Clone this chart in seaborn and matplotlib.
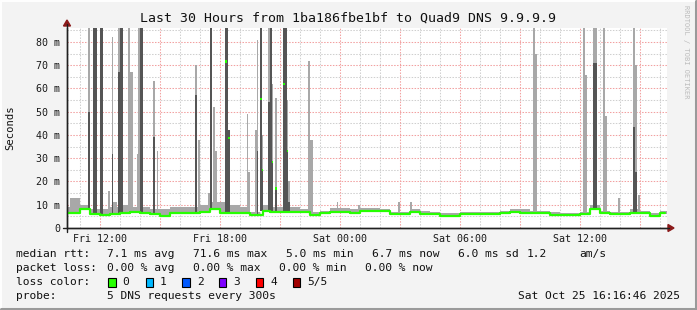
import numpy as np
import pandas as pd
import matplotlib
matplotlib.use("Agg")
import matplotlib.pyplot as plt
import seaborn as sns

# ---------------- data ----------------
# time axis in hours since Fri 00:00, 5-minute steps
start_hour = 10 + 20 / 60          # Fri 10:20
n_steps = 360                      # 30 hours of 5-minute steps

# half-hourly median rtt readings (ms), starting Fri 10:00
half_hour_start = 10.0
median_half_hour = [6.3, 6.3, 8.0, 6.0, 5.5, 6.0, 6.5, 6.7, 6.3, 6.0,
                    5.3, 6.5, 6.6, 6.5, 7.0, 8.0, 6.6, 6.6, 6.5, 5.6,
                    7.5, 7.0, 7.0, 7.0, 6.8, 5.8, 6.3, 7.0, 7.0, 6.6,
                    7.4, 7.2, 7.2, 6.0, 6.0, 7.0, 6.2, 6.0, 5.3, 5.3,
                    6.0, 6.0, 6.0, 6.0, 6.5, 7.0, 6.6, 6.3, 6.3, 5.6,
                    5.6, 5.6, 6.0, 8.2, 6.3, 6.0, 6.0, 6.3, 6.6, 5.2, 6.3]
smoke_top_half_hour = [9, 13, 10, 8, 8, 9, 10, 9, 9, 8,
                       8, 9, 9, 9, 10, 11, 11, 10, 9, 7,
                       10, 9, 9, 9, 8, 7, 7.5, 8.5, 8.5, 8,
                       8.5, 8.5, 8, 7, 7, 8, 7.5, 7, 6.5, 6.5,
                       7, 7, 7, 7, 7.5, 8, 8, 7.5, 7.5, 7,
                       6.5, 6.5, 7, 10, 7.5, 7, 7, 8, 7.5, 6.5, 7.5]

# spikes: time (hours since Fri 00:00), number of 5-min steps,
# max rtt (light smoke), upper dark smoke, median (nan = baseline)
nan = float("nan")
spike_hour = [11.40, 11.65, 12.03, 12.45, 12.55, 12.70, 12.90, 13.00, 13.43, 13.53,
              13.80, 13.93, 14.02, 14.70, 14.83, 16.78, 16.90, 17.40, 17.53, 17.63,
              17.77, 18.27, 18.42, 19.30, 19.40, 19.77, 19.87, 20.00, 20.10, 20.43,
              20.53, 20.62, 20.72, 21.13, 21.30, 21.43, 22.43, 22.53, 23.80, 24.90,
              26.93, 27.53, 33.65, 33.73, 36.15, 36.23, 36.65, 37.15, 37.23, 37.88,
              38.70, 38.78, 38.88]
spike_steps = [1, 2, 2, 1, 1, 2, 1, 2, 1, 2,
               1, 1, 2, 1, 1, 1, 1, 1, 1, 1,
               1, 2, 1, 1, 1, 1, 1, 1, 1, 1,
               1, 1, 1, 2, 1, 1, 1, 2, 1, 1,
               1, 1, 1, 1, 1, 1, 2, 1, 1, 1,
               1, 1, 1]
spike_max = [90, 90, 90, 16, 82, 11, 90, 90, 90, 67,
             32, 90, 90, 63, 33, 70, 38, 15, 90, 52,
             33, 90, 42, 49, 24, 42, 81, 90, 40, 90,
             90, 62, 56, 90, 55, 20, 72, 38, 11, 10,
             11, 11, 90, 75, 90, 66, 90, 90, 48, 13,
             90, 70, 14]
spike_dark = [50, 90, 90, 0, 32, 0, 67, 90, 0, 0,
              0, 0, 90, 39, 0, 57, 0, 0, 90, 0,
              0, 90, 42, 0, 0, 0, 33, 90, 25, 54,
              90, 28.5, 17, 90, 33, 11, 0, 0, 0, 0,
              0, 0, 0, 0, 0, 0, 71, 0, 0, 0,
              43.5, 24, 0]
spike_median = [nan, nan, nan, nan, nan, nan, nan, nan, nan, nan,
                nan, nan, nan, nan, nan, nan, nan, nan, nan, nan,
                nan, 71.6, 38.7, nan, nan, nan, nan, 55.6, 25, nan,
                nan, 28.5, 17, 62, 33, nan, nan, nan, nan, nan,
                nan, nan, nan, nan, nan, nan, nan, nan, nan, nan,
                nan, nan, nan]

tick_hours = [12, 18, 24, 30, 36]
tick_labels = ["Fri 12:00", "Fri 18:00", "Sat 00:00", "Sat 06:00", "Sat 12:00"]
ytick_values = [0, 10, 20, 30, 40, 50, 60, 70, 80]
ytick_labels = ["0", "10 m", "20 m", "30 m", "40 m", "50 m", "60 m", "70 m", "80 m"]

loss_labels = ["0", "1", "2", "3", "4", "5/5"]
loss_colors = ["#26ff00", "#00b8ff", "#0059ff", "#7e00ff", "#ff0000", "#a10000"]

# ---------------- build step table ----------------
t = start_hour + np.arange(n_steps) / 12.0
hh = np.clip(((t - half_hour_start) / 0.5).astype(int), 0, len(median_half_hour) - 1)
med = np.array(median_half_hour, dtype=float)[hh]
smoke = np.array(smoke_top_half_hour, dtype=float)[hh]
light = smoke.copy()
dark = np.zeros(n_steps)
spike_med = np.full(n_steps, np.nan)
for h, n, mx, dk, md in zip(spike_hour, spike_steps, spike_max, spike_dark, spike_median):
    k0 = int(round((h - start_hour) * 12))
    for k in range(k0, min(k0 + n, n_steps)):
        light[k] = max(light[k], mx)
        dark[k] = max(dark[k], dk)
    if not np.isnan(md):
        spike_med[k0] = md
df = pd.DataFrame({"t": t, "light": light, "dark": dark, "median": med, "base": med})
df.loc[~np.isnan(spike_med), "median"] = np.nan

# ---------------- figure ----------------
sns.set_theme(style="white")
plt.rcParams["font.family"] = ["DejaVu Sans Mono", "DejaVu Sans"]
W, H = 697, 310
fig = plt.figure(figsize=(W / 100, H / 100), dpi=100, facecolor="#f3f3f3")

def fx(px):
    return px / W

def fy(py):
    return 1 - py / H

x0, x1, ytop, ybot = 67, 667, 28, 228
ax = fig.add_axes([fx(x0), fy(ybot), fx(x1 - x0), (ybot - ytop) / H])
ax.set_facecolor("white")
ax.set_xlim(start_hour + 0.02, start_hour + 30.02)
ax.set_ylim(0, 86)

# grid
grid_minor = dict(color="#cfcfcf", lw=0.75, dashes=(1.4, 1.4), zorder=0.5)
grid_major = dict(color="#f2a0a0", lw=0.75, dashes=(1.4, 1.4), zorder=0.6)
for h in range(11, 41):
    ax.axvline(h, **(grid_major if h % 3 == 0 else grid_minor))
for v in range(5, 86, 5):
    ax.axhline(v, **(grid_major if v % 10 == 0 else grid_minor))

step = 1 / 12.0
base = df["base"] - 0.4
ax.bar(df["t"], df["light"] - base, bottom=base, width=step * 1.05,
       align="edge", color="#a8a8a8", linewidth=0, zorder=2)
has_dark = df["dark"] > 0
ax.bar(df["t"][has_dark], (df["dark"] - base)[has_dark], bottom=base[has_dark],
       width=step * 1.05, align="edge", color="#555555", linewidth=0, zorder=3)

# median line (loss 0 colour)
sns.lineplot(data=df, x="t", y="median", drawstyle="steps-post",
             color=loss_colors[0], lw=1.6, ax=ax, zorder=5)
sm = ~np.isnan(spike_med)
ax.bar(t[sm], 1.0, bottom=spike_med[sm] - 0.5, width=step, align="edge",
       color=loss_colors[0], linewidth=0, zorder=6)

ax.set_xlabel("")
ax.set_ylabel("")
ax.set_xticks(tick_hours)
ax.set_xticklabels(tick_labels)
ax.set_yticks(ytick_values)
ax.set_yticklabels(ytick_labels)
ax.tick_params(axis="x", labelsize=7.2, length=0, pad=4)
ax.tick_params(axis="y", labelsize=7.2, length=2, width=0.8, pad=3)
for lbl in ax.get_xticklabels() + ax.get_yticklabels():
    lbl.set_color("#1a1a1a")
for s in ["top", "right"]:
    ax.spines[s].set_visible(False)
for s in ["left", "bottom"]:
    ax.spines[s].set_color("#202020")
    ax.spines[s].set_linewidth(1.0)

# axis extensions with arrows
fig.add_artist(plt.Line2D([fx(63), fx(669)], [fy(228), fy(228)], color="#202020", lw=1.0))
fig.add_artist(plt.Line2D([fx(67), fx(67)], [fy(232), fy(24)], color="#202020", lw=1.0))
fig.add_artist(plt.Polygon([[fx(668), fy(224.5)], [fx(674), fy(228)], [fx(668), fy(231.5)]],
                           closed=True, color="#8b1a1a", transform=fig.transFigure))
fig.add_artist(plt.Polygon([[fx(63.5), fy(26)], [fx(67), fy(20)], [fx(70.5), fy(26)]],
                           closed=True, color="#8b1a1a", transform=fig.transFigure))

# titles
fig.text(fx(348.5), fy(18), "Last 30 Hours from 1ba186fbe1bf to Quad9 DNS 9.9.9.9",
         ha="center", va="center", fontsize=9.5, color="#111111")
fig.text(fx(10), fy(128), "Seconds", rotation=90, ha="center", va="center",
         fontsize=7.6, color="#111111")
fig.text(fx(686), fy(5), "RRDTOOL / TOBI OETIKER", rotation=270, ha="center", va="top",
         fontsize=5.0, color="#bcbcbc")

leg_fs = 8.1
def lt(px, py, s, **kw):
    fig.text(fx(px), fy(py), s, ha="left", va="center", fontsize=leg_fs, color="#111111", **kw)

row1 = [(16, "median rtt:"), (107.3, "7.1 ms avg"), (192.7, "71.6 ms max"),
        (286, "5.0 ms min"), (372, "6.7 ms now"), (458.3, "6.0 ms sd"),
        (526.7, "1.2"), (579.3, "am/s")]
row2 = [(16, "packet loss:"), (107.3, "0.00 % avg"), (193.3, "0.00 % max"),
        (279.3, "0.00 % min"), (365.3, "0.00 % now")]
for px, s in row1:
    lt(px, 254, s)
for px, s in row2:
    lt(px, 268, s)
lt(16, 282, "loss color:")
box_x = [108.3, 145.7, 182.3, 219.0, 256.0, 292.7]
for bx, c, lab in zip(box_x, loss_colors, loss_labels):
    fig.add_artist(plt.Rectangle((fx(bx), fy(286.7)), fx(7.4), 9.2 / H, facecolor=c,
                                 edgecolor="#000000", lw=0.8, transform=fig.transFigure))
    lt(bx + 14.4, 282, lab)
lt(16, 296, "probe:")
lt(107.3, 296, "5 DNS requests every 300s")
fig.text(fx(680), fy(296), "Sat Oct 25 16:16:46 2025", ha="right", va="center",
         fontsize=leg_fs, color="#111111")

# frame (3D border)
fig.add_artist(plt.Line2D([fx(0.5), fx(696)], [fy(0.5), fy(0.5)], color="#ffffff", lw=1.4))
fig.add_artist(plt.Line2D([fx(0.5), fx(0.5)], [fy(0.5), fy(309)], color="#ffffff", lw=1.4))
fig.add_artist(plt.Line2D([fx(695.5), fx(695.5)], [fy(1), fy(309.5)], color="#9a9a9a", lw=2.2))
fig.add_artist(plt.Line2D([fx(1), fx(696)], [fy(308.5), fy(308.5)], color="#9a9a9a", lw=2.2))

fig.savefig("out.png", dpi=100, facecolor=fig.get_facecolor())
